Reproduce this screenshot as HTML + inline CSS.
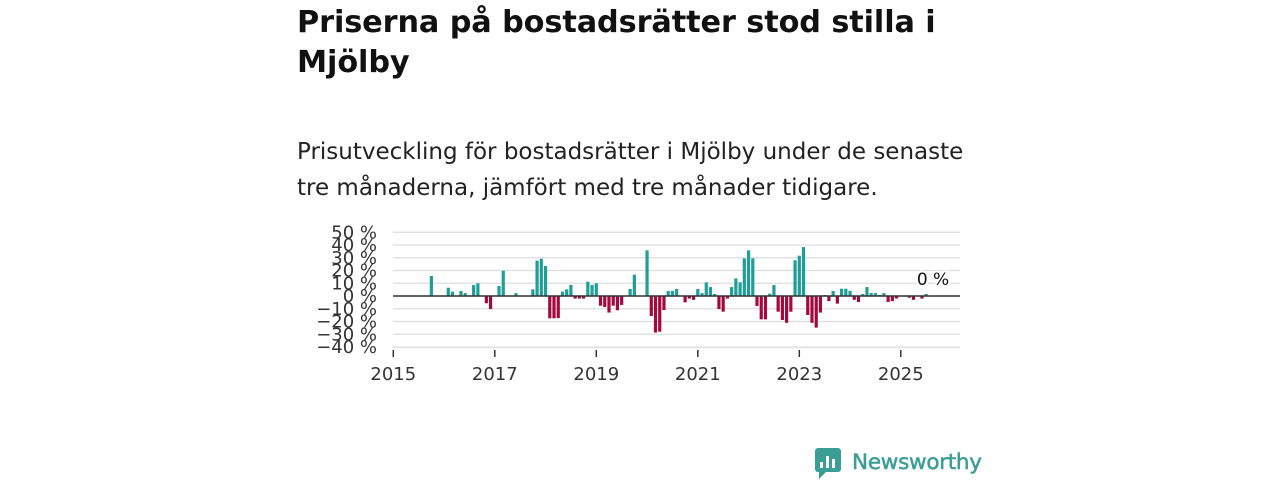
<!DOCTYPE html>
<html><head><meta charset="utf-8"><style>
body{margin:0;width:1280px;height:480px;background:#fff;font-family:"Liberation Sans","DejaVu Sans",sans-serif;color:#111;position:relative;overflow:hidden}
h1{position:absolute;left:297px;top:3px;margin:0;font-size:30.3px;line-height:40px;font-weight:bold;width:700px;font-family:"DejaVu Sans","Liberation Sans",sans-serif;letter-spacing:-0.1px}
p{position:absolute;left:297px;top:134px;margin:0;font-size:23px;line-height:36px;width:690px;font-family:"DejaVu Sans","Liberation Sans",sans-serif;color:#222;letter-spacing:0px}
svg{position:absolute;left:0;top:0}
</style></head><body>
<h1>Priserna på bostadsrätter stod stilla i Mjölby</h1>
<p>Prisutveckling för bostadsrätter i Mjölby under de senaste tre månaderna, jämfört med tre månader tidigare.</p>
<svg id="c" width="1280" height="480"></svg>
<script>
const startYear = 2015;
const values = [0,0,0,0,0,0,0,0,0,15.7,0,0,0,6.5,3.4,0,4,2.3,0,8.6,10,0,-5.7,-10.2,0,7.8,19.8,0,0,2.3,0,0,0,5.2,27.7,29.2,23.5,-17.5,-17.5,-17.3,3.4,5.2,8.6,-2,-2,-2,11.2,8.6,10,-7.6,-8.6,-13,-7.6,-11.2,-7,0,5.5,16.7,0,0,35.8,-15.7,-28.7,-28,-11,4,4,5.5,0,-5,-2,-3,5.5,2.3,10.7,7,1.6,-10.2,-12.3,-2,7,13.8,10.7,29.5,35.8,29.5,-7.8,-18.3,-18.3,1.8,8.6,-12.3,-18.8,-21,-12.3,28,31.6,38.4,-14.9,-21,-24.8,-13,0.8,-4,4,-6,5.7,5.7,4,-3,-4.7,1.6,7,2.3,2.3,0.8,2.3,-4.7,-4,-2,0,0,-1.3,-3,0,-2,1.6];
const yTicks = [50,40,30,20,10,0,-10,-20,-30,-40];
const xTicks = [2015,2017,2019,2021,2023,2025];
const lastLabel = "0 %";
const NS="http://www.w3.org/2000/svg", svg=document.getElementById('c');
const x0=393.3, pxYear=50.75, y0=296, pxPct=1.275, left=393, right=960;
const xs=m=>x0+m*pxYear/12, ys=v=>y0-v*pxPct;
function mk(t,a,txt){const e=document.createElementNS(NS,t);for(const k in a)e.setAttribute(k,a[k]);if(txt!=null)e.textContent=txt;svg.appendChild(e);return e;}
yTicks.forEach(v=>{
  const g=mk('line',{x1:left,x2:right,y1:ys(v),y2:ys(v),stroke:'#ddd','stroke-width':1.3});
  
  
  const t=mk('text',{x:377,y:ys(v)+6,'text-anchor':'end','font-size':18,fill:'#333','font-family':'DejaVu Sans, sans-serif'},(v<0?'\u2212'+(-v):v)+' %');
  
  
});
values.forEach((v,i)=>{
  if(!v)return;
  const r=mk('rect',{x:xs(i)-1.6,width:3.2,y:v>0?ys(v):y0,height:Math.abs(v)*pxPct,fill:v>0?'#1e9e96':'#a3093e'});
  
  
});
const zl=mk('line',{x1:left,x2:right,y1:y0,y2:y0,stroke:'#333','stroke-width':1.6});


const ax=mk('line',{x1:left,x2:right,y1:348,y2:348,stroke:'#eee','stroke-width':1});


xTicks.forEach(yr=>{
  const x=xs((yr-startYear)*12);
  const tk=mk('line',{x1:x,x2:x,y1:350,y2:357,stroke:'#333','stroke-width':1.5});
  
  
  const t=mk('text',{x:x,y:380,'text-anchor':'middle','font-size':18,fill:'#333','font-family':'DejaVu Sans, sans-serif'},yr);
  
  
});
const lt=mk('text',{x:933,y:285,'text-anchor':'middle','font-size':17,fill:'#111','font-family':'DejaVu Sans, sans-serif',stroke:'#fff','stroke-width':4,'paint-order':'stroke'},lastLabel);


</script>
<svg width="1280" height="480">
<rect x="815" y="448" width="26" height="24" rx="3" fill="#3a9e96"/>
<polygon points="819,472 826,472 819,479" fill="#3a9e96"/>
<rect x="820" y="462" width="3" height="6" fill="#fff"/><rect x="826" y="456" width="3" height="12" fill="#fff"/><rect x="832" y="459" width="3" height="9" fill="#fff"/>
<text x="852" y="469" font-size="21.5" fill="#3a9e96" stroke="#3a9e96" stroke-width="0.5" font-family="DejaVu Sans, sans-serif" textLength="130">Newsworthy</text>
</svg>
</body></html>
